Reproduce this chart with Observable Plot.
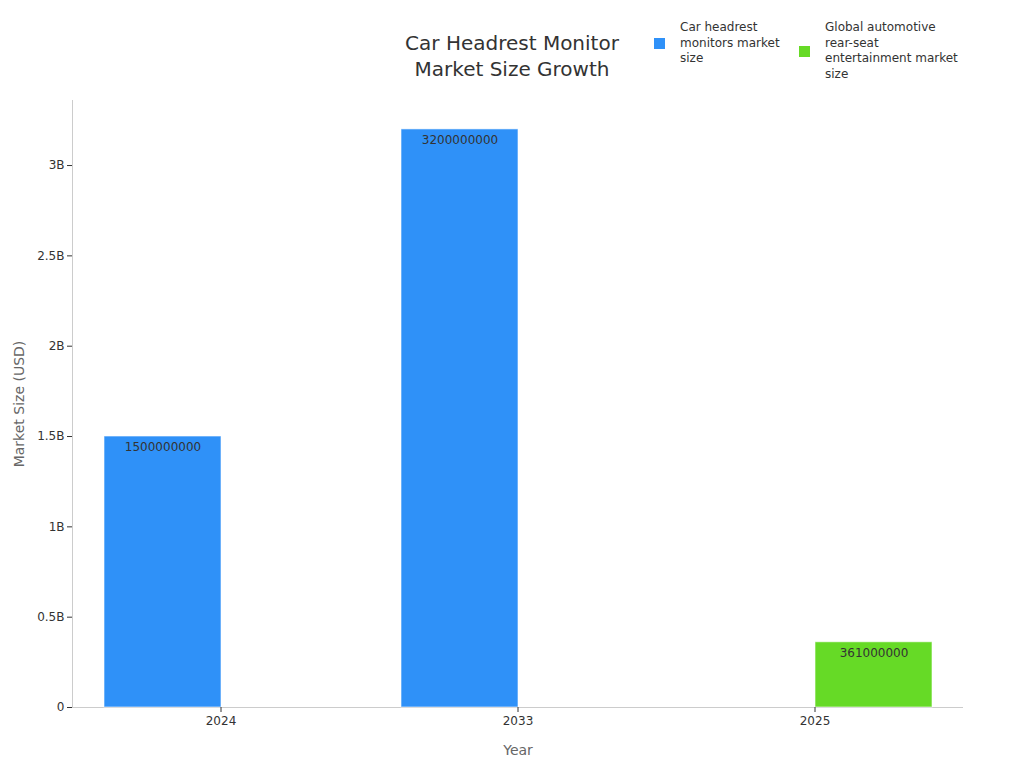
<!DOCTYPE html>
<html>
<head>
<meta charset="utf-8">
<script src="https://cdn.jsdelivr.net/npm/d3@7"></script>
<script src="https://cdn.jsdelivr.net/npm/@observablehq/plot@0.6"></script>
<style>
  body { margin: 0; background: #fff; font-family: "DejaVu Sans", sans-serif; }
  #wrap { position: relative; width: 1024px; height: 768px; }
  #header { position: relative; width: 1024px; height: 90px; }
  #title { position: absolute; left: 312px; width: 400px; top: 30px; text-align: center; font-size: 20px; line-height: 26px; color: #333; }
  #legend { position: absolute; left: 654px; top: 20px; display: flex; align-items: flex-start; font-size: 12px; line-height: 15.5px; color: #333; }
  .item { display: flex; align-items: center; }
  .sw { width: 11px; height: 11px; margin-right: 15px; flex: none; }
  #item1 { width: 145px; }
  #item1 .lbl { max-width: 108px; }
  #item2 .lbl { max-width: 140px; }
</style>
</head>
<body>
<div id="wrap">
  <div id="header">
    <div id="title">Car Headrest Monitor<br>Market Size Growth</div>
    <div id="legend"></div>
  </div>
  <div id="chart"></div>
</div>
<script>
const years = ["2024", "2033", "2025"];
const seriesNames = ["Car headrest monitors market size", "Global automotive rear-seat entertainment market size"];
const seriesColors = ["#2f91f8", "#66da26"];
const headrestValues = [1500000000, 3200000000, null];
const rearSeatValues = [null, null, 361000000];
const yTicks = [0, 500000000, 1000000000, 1500000000, 2000000000, 2500000000, 3000000000];

const data = years.flatMap((yr, i) =>
  [[seriesNames[0], headrestValues[i]], [seriesNames[1], rearSeatValues[i]]]
    .filter(d => d[1] != null)
    .map(([s, v]) => ({ year: yr, series: s, value: v }))
);

const fmt = d => d === 0 ? "0" : (d / 1e9) + "B";

const legend = document.getElementById("legend");
seriesNames.forEach((name, i) => {
  const it = document.createElement("div");
  it.className = "item";
  it.id = "item" + (i + 1);
  const sw = document.createElement("div");
  sw.className = "sw";
  sw.style.background = seriesColors[i];
  const lb = document.createElement("div");
  lb.className = "lbl";
  lb.textContent = name;
  it.appendChild(sw); it.appendChild(lb);
  legend.appendChild(it);
});

const chart = Plot.plot({
  width: 1024,
  height: 678,
  marginTop: 10,
  marginLeft: 72,
  marginRight: 61,
  marginBottom: 61,
  style: { fontFamily: "DejaVu Sans", fontSize: "12px", color: "#333", background: "white" },
  fx: { domain: years, padding: 0 },
  x: { domain: seriesNames, paddingInner: 0, paddingOuter: 0.26, axis: null },
  y: { domain: [0, 3360000000] },
  color: { domain: seriesNames, range: seriesColors },
  marks: [
    Plot.frame({ anchor: "left", stroke: "#ccc", facetAnchor: "left" }),
    Plot.ruleY([0], { stroke: "#ccc" }),
    Plot.barY(data, { fx: "year", x: "series", y: "value", fill: "series", stroke: "#fff", strokeOpacity: 0.6 }),
    Plot.text(data, { fx: "year", x: "series", y: "value", text: d => String(d.value), dy: 11, fill: "#333", lineAnchor: "middle", fontSize: 12 }),
    Plot.axisY({ ticks: yTicks, tickSize: 5, tickPadding: 3, tickFormat: fmt, label: "Market Size (USD)", labelArrow: "none", labelAnchor: "center", labelOffset: 58 }),
    Plot.axisFx({ anchor: "bottom", tickSize: 5, tickPadding: 4, label: "Year", labelArrow: "none", labelAnchor: "center", labelOffset: 47 })
  ]
});
document.getElementById("chart").appendChild(chart);
d3.select(chart).selectAll('g[aria-label="y-axis label"], g[aria-label="fx-axis label"]')
  .attr("font-size", 14).attr("fill", "#666");
</script>
</body>
</html>
